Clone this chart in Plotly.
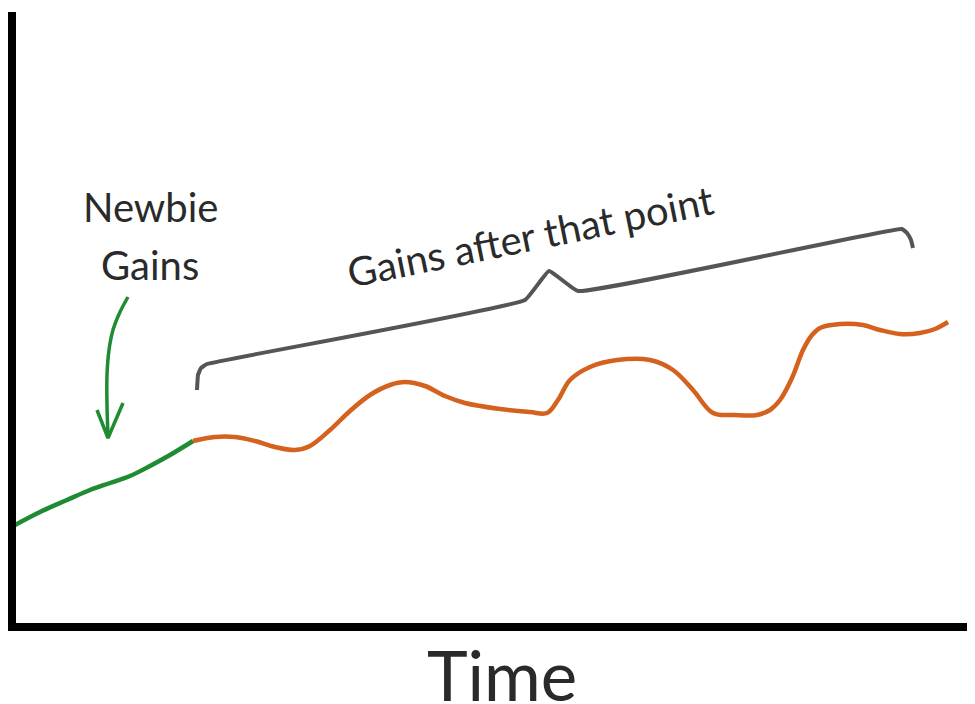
import plotly.graph_objects as go

# Newbie phase (green)
newbie_time = [3, 28, 55, 78, 98, 118, 138, 158, 181]
newbie_strength = [102, 115, 127, 137, 144, 151, 161, 172, 186]

# Later phase (orange)
later_time = [181, 203, 223, 243, 263, 283, 298, 318, 338, 358,
              378, 393, 413, 433, 453, 488, 518, 535, 546, 558,
              578, 605, 638, 661, 681, 701, 723, 745, 758, 768,
              780, 791, 800, 808, 828, 851, 868, 888, 908, 923, 936]
later_strength = [186, 190, 190, 186, 180, 177, 181, 197, 216, 232,
                  242, 245, 241, 231, 224, 218, 215, 214, 227, 247,
                  260, 267, 267, 257, 237, 214, 212, 212, 217, 227,
                  249, 277, 292, 299, 303, 302, 297, 293, 294, 298, 305]

# Brace over the later phase
brace_time = [185, 186, 189, 195, 513, 537, 566, 890, 895, 899, 901]
brace_strength = [237, 252, 259, 263, 327, 356, 336, 398, 394, 387, 379]

# Hand-drawn arrow pointing to the newbie phase
arrow_time = [116, 108, 101, 97, 95, 95, 96]
arrow_strength = [330, 315, 297, 277, 252, 222, 191]
arrowhead_time = [85, 96, 111]
arrowhead_strength = [217, 189, 224]

labels = {"newbie1": "Newbie", "newbie2": "Gains", "later": "Gains after that point", "x": "Time"}

GREEN = "#1f8b32"
ORANGE = "#d4611d"
GRAY = "#555555"
TEXT = "#2a2a2a"
FONT = "Lato, 'Open Sans', sans-serif"

fig = go.Figure()
fig.add_trace(go.Scatter(x=newbie_time, y=newbie_strength, mode="lines",
                         line=dict(color=GREEN, width=4.5, shape="spline", smoothing=1)))
fig.add_trace(go.Scatter(x=later_time, y=later_strength, mode="lines",
                         line=dict(color=ORANGE, width=4.5, shape="spline", smoothing=1)))
fig.add_trace(go.Scatter(x=brace_time, y=brace_strength, mode="lines",
                         line=dict(color=GRAY, width=4, shape="spline", smoothing=0.3)))
fig.add_trace(go.Scatter(x=arrow_time, y=arrow_strength, mode="lines",
                         line=dict(color=GREEN, width=3.5, shape="spline", smoothing=1)))
fig.add_trace(go.Scatter(x=arrowhead_time, y=arrowhead_strength, mode="lines",
                         line=dict(color=GREEN, width=3.5)))

fig.add_annotation(x=138, y=420, text=labels["newbie1"], showarrow=False,
                   font=dict(family=FONT, size=40, color=TEXT))
fig.add_annotation(x=138, y=362, text=labels["newbie2"], showarrow=False,
                   font=dict(family=FONT, size=40, color=TEXT))
fig.add_annotation(x=518, y=391, text=labels["later"], showarrow=False, textangle=-11.5,
                   font=dict(family=FONT, size=40, color=TEXT))
fig.add_annotation(x=490, xref="x", y=-0.084, yref="paper", yanchor="middle",
                   text=labels["x"], showarrow=False,
                   font=dict(family=FONT, size=69, color=TEXT))

# The page body adds an 8px offset; the figure is sized to fill the rest of the window
fig.update_layout(
    width=967, height=696,
    margin=dict(l=8, r=0, t=4, b=81),
    paper_bgcolor="white", plot_bgcolor="white",
    showlegend=False,
    xaxis=dict(range=[4, 963], showline=True, linecolor="black", linewidth=8,
               showgrid=False, zeroline=False, showticklabels=False, ticks=""),
    yaxis=dict(range=[4, 615], showline=True, linecolor="black", linewidth=8,
               showgrid=False, zeroline=False, showticklabels=False, ticks=""),
)

fig.write_html("out.html")
